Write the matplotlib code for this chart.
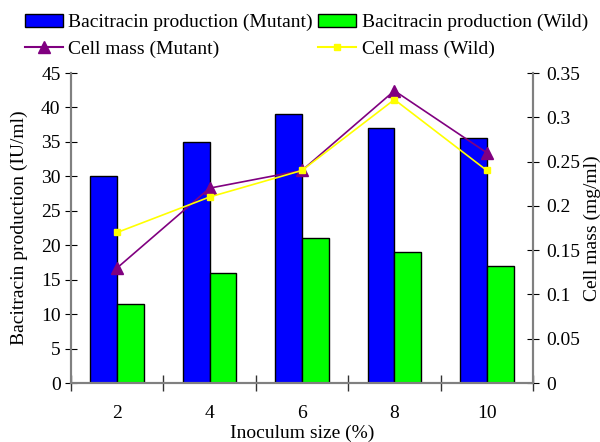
import matplotlib
matplotlib.use("Agg")
import matplotlib.pyplot as plt
import numpy as np
from matplotlib.lines import Line2D
from matplotlib.patches import Patch

plt.rcParams['font.family'] = ['Liberation Serif', 'DejaVu Serif']

categories = ["2", "4", "6", "8", "10"]
bac_mutant = [30, 35, 39, 37, 35.5]
bac_wild = [11.5, 16, 21, 19, 17]
cell_mutant = [0.13, 0.22, 0.24, 0.33, 0.26]
cell_wild = [0.17, 0.21, 0.24, 0.32, 0.24]

FS = 14
fig = plt.figure(figsize=(6.0, 4.42), dpi=100)
L, R, T, B = 71, 533, 73, 383
ax = fig.add_axes([L/600, 1-B/442, (R-L)/600, (B-T)/442])
ax2 = ax.twinx()

x = np.arange(len(categories))
w = 0.29
ax.bar(x - w/2, bac_mutant, w, color='#0000ff', edgecolor='black', linewidth=1, zorder=2)
ax.bar(x + w/2, bac_wild, w, color='#00ff00', edgecolor='black', linewidth=1, zorder=2)
ax.set_xlim(-0.5, len(categories) - 0.5)
ax.set_ylim(0, 45)
ax.set_yticks(np.arange(0, 46, 5))
ax.set_xticks(x)
ax.set_xticklabels(categories)
ax.set_xticks(np.arange(-0.5, len(categories), 1), minor=True)
ax.tick_params(axis='x', which='major', length=0, labelsize=FS, pad=16)
ax.tick_params(axis='x', which='minor', length=11, direction='inout', width=1, color='#333333')
ax.tick_params(axis='y', direction='inout', length=9, labelsize=FS, pad=3)

ax2.plot(x, cell_mutant, color='#800080', marker='^', markersize=9, linewidth=1.2, zorder=3)
ax2.plot(x, cell_wild, color='#ffff00', marker='s', markersize=5, linewidth=1.2, zorder=3)
ax2.set_ylim(0, 0.35)
ax2.set_yticks([0, 0.05, 0.1, 0.15, 0.2, 0.25, 0.3, 0.35])
ax2.set_yticklabels(["0", "0.05", "0.1", "0.15", "0.2", "0.25", "0.3", "0.35"])
ax2.tick_params(axis='y', direction='inout', length=9, labelsize=FS, pad=5)

for a in (ax, ax2):
    a.spines['top'].set_visible(False)
    for s in ('left', 'right', 'bottom'):
        a.spines[s].set_color('#808080')
        a.spines[s].set_linewidth(1.5)

ax.set_ylabel("Bacitracin production (IU/ml)", fontsize=FS, va='center')
ax.yaxis.set_label_coords(-(L-19)/(R-L), 0.5)
ax2.set_ylabel("Cell mass (mg/ml)", fontsize=FS, va='center')
ax2.yaxis.set_label_coords(1 + (592-R)/(R-L), 0.5)
ax.set_xlabel("Inoculum size (%)", fontsize=FS, va='center')
ax.xaxis.set_label_coords(0.5, -(433-B)/(B-T))

handles = [
    Patch(facecolor='#0000ff', edgecolor='black'),
    Line2D([], [], color='#800080', marker='^', markersize=8),
    Patch(facecolor='#00ff00', edgecolor='black'),
    Line2D([], [], color='#ffff00', marker='s', markersize=5),
]
labels = ["Bacitracin production (Mutant)", "Cell mass (Mutant)",
          "Bacitracin production (Wild)", "Cell mass (Wild)"]
fig.legend(handles, labels, ncol=2, loc='upper left', bbox_to_anchor=(11/600, 1.0),
           frameon=False, fontsize=FS, handlelength=1.95, handletextpad=0.3,
           columnspacing=0.25, labelspacing=0.45, borderaxespad=0.3)

fig.savefig("out.png", dpi=100)
